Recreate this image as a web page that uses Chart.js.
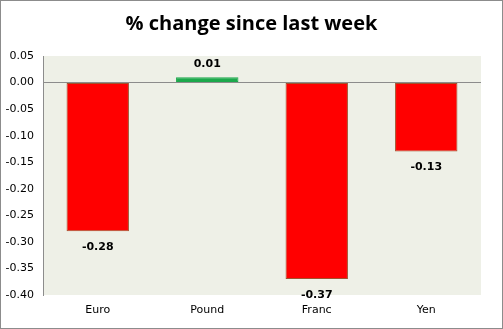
<!DOCTYPE html>
<html>
<head>
<meta charset="utf-8">
<script src="https://cdn.jsdelivr.net/npm/chart.js@4/dist/chart.umd.min.js"></script>
<style>
  html, body { margin: 0; padding: 0; background: #fff; }
  #wrap { width: 503px; height: 329px; position: relative; }
</style>
</head>
<body>
<div id="wrap"><canvas id="c" width="503" height="329"></canvas></div>
<script>
// Weekly currency moves
const currencies = ['Euro', 'Pound', 'Franc', 'Yen'];
const weeklyChange = [-0.28, 0.01, -0.37, -0.13];
const barColors = ['#FF0000', '#1BA84B', '#FF0000', '#FF0000'];
const barBorders = ['#A0522D', '#1BA84B', '#A0522D', '#A0522D'];
const chartTitle = '% change since last week';

const plotBackground = {
  id: 'plotBackground',
  beforeDraw(chart) {
    const { ctx, chartArea: a, width, height } = chart;
    ctx.save();
    ctx.fillStyle = '#ffffff';
    ctx.fillRect(0, 0, width, height);
    ctx.fillStyle = '#EEF0E7';
    ctx.fillRect(a.left, a.top, a.right - a.left, a.bottom - a.top);
    ctx.restore();
  },
  afterDraw(chart) {
    const { ctx, width, height } = chart;
    ctx.save();
    // heading centred on the whole canvas
    ctx.font = 'bold 20px "Open Sans"';
    ctx.fillStyle = '#000';
    ctx.textAlign = 'center';
    ctx.textBaseline = 'middle';
    ctx.fillText(chartTitle, width / 2, 24);
    ctx.strokeStyle = '#8c8c8c';
    ctx.lineWidth = 1;
    ctx.strokeRect(0.5, 0.5, width - 1, height - 1);
    ctx.restore();
  }
};

const valueLabels = {
  id: 'valueLabels',
  afterDatasetsDraw(chart) {
    const { ctx } = chart;
    const meta = chart.getDatasetMeta(0);
    const values = chart.data.datasets[0].data;
    ctx.save();
    ctx.font = 'bold 11px "DejaVu Sans"';
    ctx.fillStyle = '#000';
    ctx.textAlign = 'center';
    ctx.textBaseline = 'middle';
    meta.data.forEach((bar, i) => {
      const v = values[i];
      const y = v < 0 ? bar.y + 16 : bar.y - 13;
      ctx.fillText(v.toFixed(2), bar.x, y);
    });
    ctx.restore();
  }
};

new Chart(document.getElementById('c'), {
  type: 'bar',
  data: {
    labels: currencies,
    datasets: [{
      data: weeklyChange,
      backgroundColor: barColors,
      borderColor: barBorders,
      borderWidth: 1,
      borderSkipped: false,
      categoryPercentage: 1,
      barPercentage: 0.57
    }]
  },
  options: {
    responsive: false,
    animation: false,
    layout: { padding: { left: 0, right: 22, top: 56, bottom: 0 } },
    plugins: {
      legend: { display: false },
      tooltip: { enabled: false },
      title: { display: false }
    },
    scales: {
      x: {
        grid: { display: false, drawTicks: false },
        border: { display: false },
        ticks: {
          color: '#000',
          font: { family: '"DejaVu Sans"', size: 11 },
          padding: 9
        },
        afterFit(s) { s.height = 34; }
      },
      y: {
        min: -0.4,
        max: 0.05,
        grid: {
          drawTicks: false,
          color: ctx => (ctx.tick && Math.abs(ctx.tick.value) < 1e-9) ? '#8c8c8c' : 'rgba(0,0,0,0)'
        },
        border: { display: true, color: '#8c8c8c' },
        ticks: {
          stepSize: 0.05,
          color: '#000',
          font: { family: '"DejaVu Sans"', size: 11 },
          padding: 9,
          callback: v => Number(v).toFixed(2)
        },
        afterFit(s) { s.width = 43; }
      }
    }
  },
  plugins: [plotBackground, valueLabels]
});
</script>
</body>
</html>
